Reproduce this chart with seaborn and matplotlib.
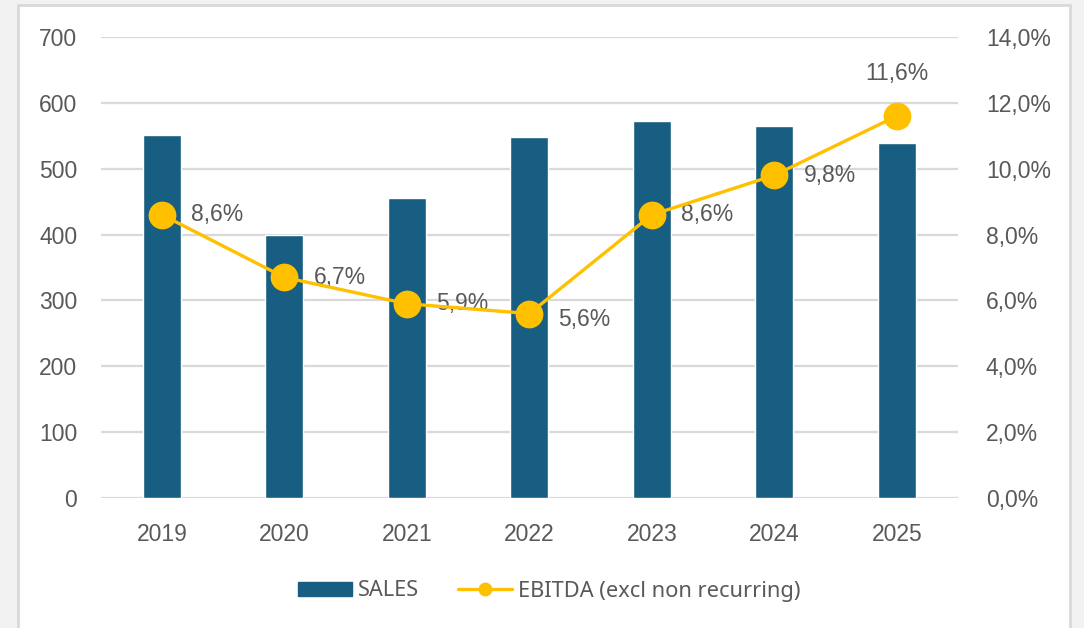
import matplotlib
matplotlib.use("Agg")
import matplotlib.pyplot as plt
from matplotlib.lines import Line2D
from matplotlib.patches import Patch, Rectangle
import seaborn as sns
import pandas as pd
import numpy as np

years = ["2019", "2020", "2021", "2022", "2023", "2024", "2025"]
sales = [551, 400, 456, 548, 573, 565, 539]
ebitda_pct = [8.6, 6.7, 5.9, 5.6, 8.6, 9.8, 11.6]
ebitda_labels = ["8,6%", "6,7%", "5,9%", "5,6%", "8,6%", "9,8%", "11,6%"]
left_ticks = [0, 100, 200, 300, 400, 500, 600, 700]
right_ticks = [0, 2, 4, 6, 8, 10, 12, 14]

BAR = "#175e82"
LINE = "#ffc000"
TXT = "#595959"
GRID = "#d9d9d9"
FS = 16.5

sns.set_theme(style="white")
plt.rcParams["font.family"] = ["Liberation Sans", "DejaVu Sans"]

fig = plt.figure(figsize=(10.84, 6.28), dpi=100)
fig.patch.set_facecolor("#f2f2f2")
# white chart panel
fig.add_artist(Rectangle((18 / 1084, -0.01), (1070 - 18) / 1084, 1 - 5 / 628 + 0.01,
                         transform=fig.transFigure, facecolor="white",
                         edgecolor="#d9d9d9", linewidth=2, zorder=0))

ax = fig.add_axes([100.75 / 1084, 1 - 498 / 628, (958 - 100.75) / 1084, (498 - 37) / 628])
ax.set_facecolor("none")

df = pd.DataFrame({"year": years, "sales": sales, "ebitda": ebitda_pct})
df["pos"] = np.arange(len(years))

sns.barplot(data=df, x="year", y="sales", color=BAR, width=0.31, ax=ax,
            saturation=1, zorder=3)
ax.set_ylim(0, 700)
ax.set_yticks(left_ticks)
ax.set_yticklabels([str(t) for t in left_ticks])
ax.set_xlim(-0.5, len(years) - 0.5)
ax.grid(axis="y", color=GRID, linewidth=1.6, zorder=0)
ax.set_axisbelow(True)
for s in ax.spines.values():
    s.set_visible(False)
ax.set_xlabel("")
ax.set_ylabel("")
ax.tick_params(axis="both", length=0, labelsize=FS, colors=TXT)
ax.tick_params(axis="y", pad=17)
ax.tick_params(axis="x", pad=18)

ax2 = ax.twinx()
sns.lineplot(data=df, x="pos", y="ebitda", color=LINE, linewidth=2.4,
             marker="o", markersize=20, markeredgewidth=0, ax=ax2, zorder=5)
ax2.set_ylim(0, 14)
ax2.set_yticks(right_ticks)
ax2.set_yticklabels([f"{t:.1f}%".replace(".", ",") for t in right_ticks])
ax2.set_xlim(-0.5, len(years) - 0.5)
for s in ax2.spines.values():
    s.set_visible(False)
ax2.set_ylabel("")
ax2.set_xlabel("")
ax2.tick_params(axis="y", length=0, labelsize=FS, colors=TXT, pad=20)
ax2.grid(False)

for i, (v, lab) in enumerate(zip(ebitda_pct, ebitda_labels)):
    if i == len(years) - 1:
        ax2.annotate(lab, (i, v), xytext=(0, 22), textcoords="offset points",
                     ha="center", va="bottom", fontsize=FS, color=TXT)
    elif i == 3:
        ax2.annotate(lab, (i, v), xytext=(21, -4), textcoords="offset points",
                     ha="left", va="center", fontsize=FS, color=TXT)
    else:
        ax2.annotate(lab, (i, v), xytext=(21, 0), textcoords="offset points",
                     ha="left", va="center", fontsize=FS, color=TXT)

handles = [Patch(facecolor=BAR, edgecolor=BAR),
           Line2D([0], [0], color=LINE, linewidth=2.4, marker="o", markersize=9)]
fig.legend(handles, ["SALES", "EBITDA (excl non recurring)"], loc="center",
           bbox_to_anchor=(549 / 1084, 1 - 591 / 628), ncol=2, frameon=False,
           labelcolor=TXT, handlelength=2.5, handleheight=0.6,
           columnspacing=1.8, handletextpad=0.25,
           prop={"family": ["Noto Sans", "DejaVu Sans"], "size": 15.7})

fig.savefig("out.png", dpi=100)
